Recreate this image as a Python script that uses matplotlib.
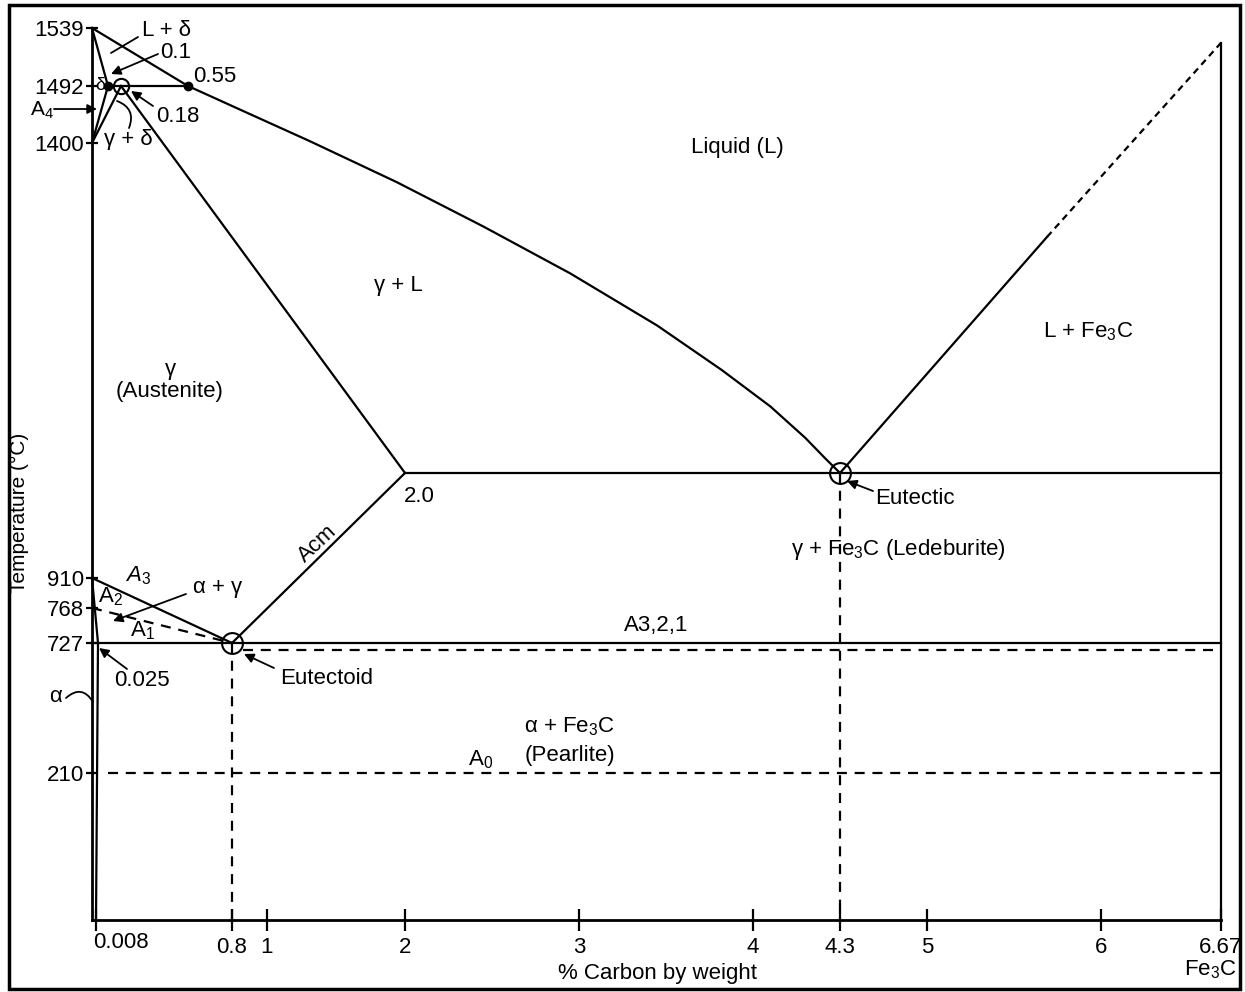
import numpy as np
import matplotlib.pyplot as plt
from matplotlib.patches import Rectangle

plt.rcParams['font.family'] = ['Liberation Sans', 'DejaVu Sans']
plt.rcParams['mathtext.fontset'] = 'custom'
plt.rcParams['mathtext.rm'] = 'Liberation Sans'
plt.rcParams['mathtext.it'] = 'Liberation Sans'
plt.rcParams['mathtext.bf'] = 'Liberation Sans:bold'

W, H = 1245, 992

# the drawing is schematic: both axes are stretched piecewise
carbon_marks = [0, 0.008, 0.025, 0.1, 0.18, 0.55, 0.8, 1, 2, 3, 4, 4.3, 5, 6, 6.67]
carbon_px = [92, 96, 98, 108, 121, 188, 232, 267, 405, 579, 753, 840, 927, 1101, 1221]
temp_marks = [0, 210, 727, 768, 910, 1147, 1400, 1492, 1539]
temp_px = [920, 773, 643, 608, 578, 473, 143, 86, 28]

# phase boundaries (% C, deg C)
liquidus_c = [0, 0.55, 0.9, 1.31, 1.94, 2.45, 2.95, 3.45, 3.82, 4.06, 4.18, 4.25, 4.3]
liquidus_t = [1539, 1492, 1447, 1403, 1370, 1336, 1300, 1260, 1226, 1198, 1174, 1158, 1147]
fe3c_liq_c = [4.3, 5.69]
fe3c_liq_t = [1147, 1328]
fe3c_liq_dash_c = [5.69, 6.67]
fe3c_liq_dash_t = [1328, 1527]
solidus_delta_c = [0, 0.1]
solidus_delta_t = [1539, 1492]
peritectic_c = [0.1, 0.55]
peritectic_t = [1492, 1492]
delta_c = [0.1, 0]
delta_t = [1492, 1400]
gamma_delta_c = [0.18, 0]
gamma_delta_t = [1492, 1400]
solidus_gamma_c = [0.18, 2.0]
solidus_gamma_t = [1492, 1147]
eutectic_line_c = [2.0, 6.67]
eutectic_line_t = [1147, 1147]
acm_c = [0.8, 2.0]
acm_t = [727, 1147]
a3_c = [0, 0.8]
a3_t = [910, 727]
a2_c = [0, 0.8]
a2_t = [768, 727]
a1_c = [0, 6.67]
a1_t = [727, 727]
ar1_c = [0.86, 6.67]
ar1_t = [700, 700]
alpha_c = [0, 0.025, 0.008]
alpha_t = [910, 727, 0]
a0_c = [0.1, 6.67]
a0_t = [210, 210]
eutectoid_v_c = [0.8, 0.8]
eutectoid_v_t = [727, 0]
eutectic_v_c = [4.3, 4.3]
eutectic_v_t = [1147, 0]
fe3c_c = [6.67, 6.67]
fe3c_t = [0, 1527]

dots_c = [0.1, 0.55]
dots_t = [1492, 1492]
rings_c = [0.18, 0.8, 4.3]
rings_t = [1492, 727, 1147]
rings_size = [11, 15, 15]

xtick_vals = [0.008, 0.8, 1, 2, 3, 4, 4.3, 5, 6, 6.67]
xtick_text = ['', '0.8', '1', '2', '3', '4', '4.3', '5', '6', '6.67']
ytick_vals = [210, 727, 768, 910, 1400, 1492, 1539]

cx = np.array(carbon_px, float)
ty = 920 - np.array(temp_px, float)


def fx(v):
    return np.interp(v, carbon_marks, cx)


def ix(v):
    return np.interp(v, cx, carbon_marks)


def fy(v):
    return np.interp(v, temp_marks, ty)


def iy(v):
    return np.interp(v, ty, temp_marks)


def fp(x, y):
    # picture pixel (from top-left) -> figure pixels
    return (x, H - y)


fig = plt.figure(figsize=(W / 100, H / 100), dpi=100)
ax = fig.add_axes([92 / W, (H - 920) / H, (1221 - 92) / W, (920 - 28) / H])
ax.set_xscale('function', functions=(fx, ix))
ax.set_yscale('function', functions=(fy, iy))
ax.set_xlim(0, 6.67)
ax.set_ylim(0, 1539)

lw = 1.6
solid = dict(color='black', lw=lw, clip_on=False)
dashed = dict(color='black', lw=lw, clip_on=False, dashes=(4.5, 3.5))

for c, t in [(liquidus_c, liquidus_t), (fe3c_liq_c, fe3c_liq_t),
             (solidus_delta_c, solidus_delta_t), (peritectic_c, peritectic_t),
             (delta_c, delta_t), (gamma_delta_c, gamma_delta_t),
             (solidus_gamma_c, solidus_gamma_t), (eutectic_line_c, eutectic_line_t),
             (acm_c, acm_t), (a3_c, a3_t), (a1_c, a1_t), (alpha_c, alpha_t),
             (fe3c_c, fe3c_t)]:
    ax.plot(c, t, **solid)

for c, t in [(a2_c, a2_t), (ar1_c, ar1_t), (a0_c, a0_t),
             (eutectoid_v_c, eutectoid_v_t), (eutectic_v_c, eutectic_v_t)]:
    ax.plot(c, t, **dashed)
ax.plot(fe3c_liq_dash_c, fe3c_liq_dash_t, color='black', lw=lw, dashes=(3, 2.2), clip_on=False)

ax.plot(dots_c, dots_t, 'o', color='black', ms=6, clip_on=False)
for c, t, s in zip(rings_c, rings_t, rings_size):
    ax.plot([c], [t], 'o', mfc='none', mec='black', mew=1.5, ms=s, clip_on=False)

for side in ['top', 'right']:
    ax.spines[side].set_visible(False)
for side in ['left', 'bottom']:
    ax.spines[side].set_linewidth(2)

ax.set_xticks(xtick_vals)
ax.set_xticklabels(xtick_text)
ax.set_yticks(ytick_vals)
ax.set_yticklabels([str(v) for v in ytick_vals])
ax.minorticks_off()
ax.tick_params(axis='x', direction='inout', length=16, width=1.6, pad=4, labelsize=16)
ax.tick_params(axis='y', direction='inout', length=8, width=1.6, pad=2, labelsize=16)

# arrows and leader lines (picture pixels)
arrow = dict(arrowstyle='-|>', color='black', lw=1.3, mutation_scale=14, shrinkA=0, shrinkB=0)
line = dict(arrowstyle='-', color='black', lw=1.3, shrinkA=0, shrinkB=0)
for tail, tip in [((158, 54), (111, 74)), ((153, 106), (131, 91)), ((54, 109), (97, 109)),
                  ((186, 594), (113, 621)), ((127, 669), (99, 648)),
                  ((274, 668), (244, 654)), ((873, 491), (847, 481))]:
    ax.annotate('', xy=fp(*tip), xycoords='figure pixels',
                xytext=fp(*tail), textcoords='figure pixels', arrowprops=arrow)
ax.annotate('', xy=fp(138, 37), xycoords='figure pixels',
            xytext=fp(111, 53), textcoords='figure pixels', arrowprops=line)
ax.annotate('', xy=fp(117, 101), xycoords='figure pixels',
            xytext=fp(129, 128), textcoords='figure pixels',
            arrowprops=dict(line, connectionstyle='arc3,rad=0.5'))
ax.annotate('', xy=fp(93, 702), xycoords='figure pixels',
            xytext=fp(66, 698), textcoords='figure pixels',
            arrowprops=dict(line, connectionstyle='arc3,rad=-0.6'))


def label(x, y, s, size=16, **kw):
    fig.text(x / W, 1 - y / H, s, fontsize=size, ha=kw.pop('ha', 'center'),
             va=kw.pop('va', 'center'), **kw)


label(167, 30, 'L + δ')
label(176, 52, '0.1')
label(193, 77, '0.55', ha='left')
label(178, 116, '0.18')
label(100, 86, 'δ', size=13)
label(42, 110, 'A$_4$', size=15)
label(128, 140, 'γ + δ')
label(737, 147, 'Liquid (L)')
label(398, 285, 'γ + L')
label(170, 370, 'γ')
label(170, 391, '(Austenite)')
label(1088, 332, 'L + Fe$_3$C')
label(419, 497, '2.0')
label(875, 498, 'Eutectic', ha='left')
label(791, 550, 'γ + Fe$_3$C (Ledeburite)', ha='left')
label(318, 544, 'Acm', rotation=43)
label(138, 576, 'A$_3$', style='italic')
label(218, 588, 'α + γ')
label(110, 597, 'A$_2$')
label(142, 631, 'A$_1$')
label(656, 625, 'A3,2,1')
label(142, 680, '0.025')
label(280, 678, 'Eutectoid', ha='left')
label(55, 697, 'α')
label(569, 727, 'α + Fe$_3$C')
label(570, 755, '(Pearlite)')
label(481, 760, 'A$_0$')
label(93, 943, '0.008', ha='left')
label(1210, 970, 'Fe$_3$C')
label(658, 973, '% Carbon by weight')
label(19, 513, 'Temperature (°C)', size=15, rotation=90)

fig.patches.append(Rectangle((9 / W, 1 - 989 / H), (1240 - 9) / W, (989 - 5) / H,
                             transform=fig.transFigure, fill=False, lw=2.5, ec='black'))

fig.savefig('out.png', dpi=100)
